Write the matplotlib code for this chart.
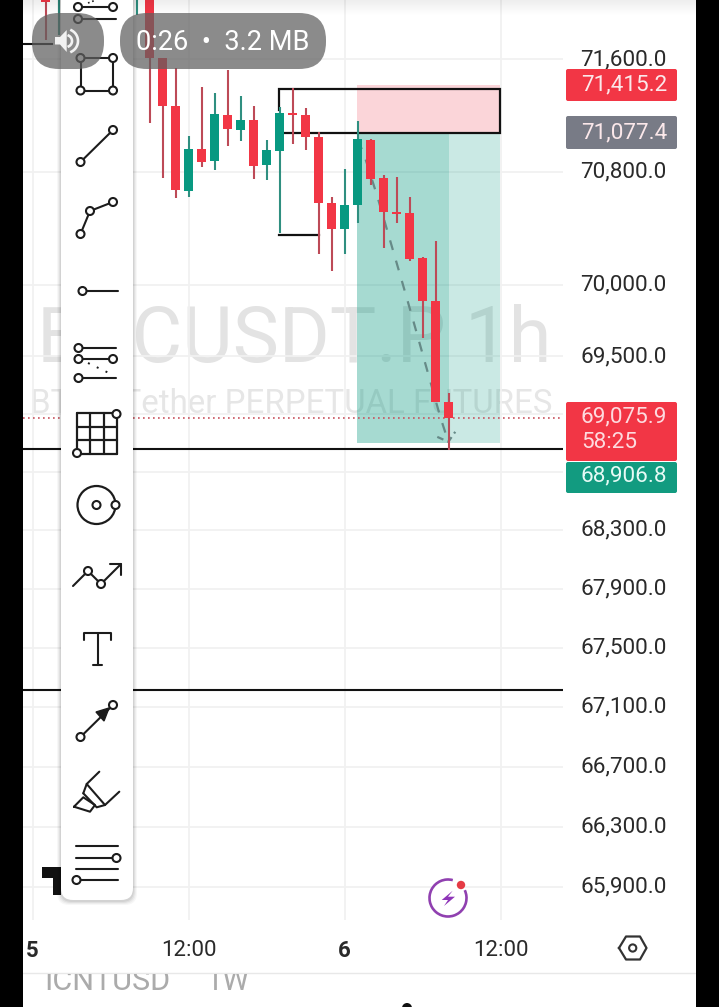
import numpy as np
import matplotlib
matplotlib.use("Agg")
import matplotlib.pyplot as plt
from matplotlib.patches import Rectangle, FancyBboxPatch, Circle, Polygon, RegularPolygon, Arc
from matplotlib.ticker import NullLocator, FixedLocator, FixedFormatter
from matplotlib.transforms import ScaledTranslation

plt.rcParams['font.family'] = ['Roboto', 'DejaVu Sans']

W, H = 719, 1007

# ---------- data ----------
HOURS = [-23, -22, -16, -15, -14, -13, -12, -11, -10, -9, -8, -7, -6, -5, -4, -3, -2, -1,
         0, 1, 2, 3, 4, 5, 6, 7, 8]
OPEN = [72200, 72050, 72150, 72300, 71610, 71266, 70662, 70960, 70875, 71202, 71095, 71166, 70846,
        70946, 71216, 71202, 71045, 70577, 70394, 70563, 71024, 70754, 70514, 70506, 70190, 69887, 69184]
HIGH = [72300, 72200, 72350, 72350, 71610, 71538, 71052, 71402, 71359, 71524, 71338, 71266, 71024,
        71258, 71395, 71252, 71081, 70619, 70818, 71159, 71031, 70775, 70761, 70619, 70197, 70309, 69246]
LOW = [71739, 71775, 71919, 71145, 70754, 70612, 70619, 70832, 70811, 70981, 71016, 70747, 70740,
       70365, 70995, 70953, 70217, 70097, 70217, 70436, 70704, 70259, 70436, 70168, 69628, 69184, 68852]
CLOSE = [72012, 72150, 72300, 71610, 71266, 70669, 70960, 70868, 71209, 71102, 71166, 70839, 70953,
         71216, 71205, 71045, 70577, 70394, 70563, 71031, 70747, 70514, 70499, 70182, 69887, 69184, 69075.9]

Y_TICKS = [71600, 70800, 70000, 69500, 69100, 68700, 68300, 67900, 67500, 67100, 66700, 66300, 65900]
Y_LABELS = ['71,600.0', '70,800.0', '70,000.0', '69,500.0', '', '', '68,300.0', '67,900.0',
            '67,500.0', '67,100.0', '66,700.0', '66,300.0', '65,900.0']
X_TICKS = [-24, -12, 0, 12]
X_LABELS = ['5', '12:00', '6', '12:00']

ENTRY, STOP, TARGET = 71077.4, 71415.2, 68900
POS_START, POS_MID, POS_END = 0.95, 8, 11.95
LEVELS = [68859, 67212]
PRICE_NOW = 69075.9

BOX_TOP, BOX_BOTTOM = 71388, 71074
BOX_LEFT = -5.05
LOW_BRACKET = 70351
LEFT_STUB = 71711

PATH_H = [1.0, 1.46, 2.53, 4.45, 5.2, 7.36, 7.98]
PATH_P = [71024, 70932, 70620, 70014, 69776, 69080, 68908]
HEAD_H = [7.13, 7.98, 8.51]
HEAD_P = [68942, 68908, 68977]

TAGS = [('71,415.2', 69, 101, '#f23645'), ('71,077.4', 116, 149, '#787b86')]

# ---------- main axes ----------
fig = plt.figure(figsize=(W / 100, H / 100), dpi=100, facecolor='white')
ax_l, ax_r, ax_top, ax_bot = 23, 563, 0, 920
ax = fig.add_axes([ax_l / W, 1 - ax_bot / H, (ax_r - ax_l) / W, (ax_bot - ax_top) / H])
ax.set_yscale('log')
PX_PER_H = 13.0
X0 = 344.6
ax.set_xlim((ax_l - X0) / PX_PER_H, (ax_r - X0) / PX_PER_H)
K = 9976
ax.set_ylim(71600 * np.exp(-(ax_bot - 59.5) / K), 71600 * np.exp(59.5 / K))
ax.yaxis.set_major_locator(FixedLocator(Y_TICKS))
ax.yaxis.set_major_formatter(FixedFormatter(Y_LABELS))
ax.yaxis.set_minor_locator(NullLocator())
ax.yaxis.tick_right()
ax.set_xticks(X_TICKS)
ax.set_xticklabels(X_LABELS)
ax.tick_params(axis='y', length=0, pad=12.3, labelsize=16.2, labelcolor='#2a2a2a')
ax.tick_params(axis='x', length=0, pad=14.5, labelsize=16, labelcolor='#2a2a2a')
shift = ScaledTranslation(0, 2.5 / 100, fig.dpi_scale_trans)
for lab in ax.get_yticklabels():
    lab.set_transform(lab.get_transform() + shift)
for lab, t in zip(ax.get_xticklabels(), X_LABELS):
    if ':' not in t:
        lab.set_fontweight('bold')
for s in ax.spines.values():
    s.set_visible(False)
ax.set_axisbelow(True)
ax.grid(True, color='#f1f1f1', lw=1.3)


def px(x, y):
    return x / W, 1 - y / H


# watermark
wx, wy = px(37, 362)
ax.text(wx, wy, 'BTCUSDT.P 1h', transform=fig.transFigure, fontsize=56, color='#e3e3e3',
        ha='left', va='baseline', zorder=0.5)
wx, wy = px(30, 413)
ax.text(wx, wy, 'BTC / Tether PERPETUAL FUTURES', transform=fig.transFigure, fontsize=23.8,
        color='#e6e6e6', ha='left', va='baseline', zorder=0.5)

# position zones
ax.fill_between([POS_START, POS_END], ENTRY, STOP, color='#fbd3d7', lw=0, zorder=1, alpha=0.95)
ax.fill_between([POS_START, POS_MID], TARGET, ENTRY, color='#089981', alpha=0.36, lw=0, zorder=1)
ax.fill_between([POS_MID, POS_END], TARGET, ENTRY, color='#089981', alpha=0.21, lw=0, zorder=1)

# horizontal levels
for lv in LEVELS:
    ax.axhline(lv, color='#111111', lw=1.5, zorder=2)
ax.axhline(PRICE_NOW, color='#c8525e', lw=1.2, ls=(0, (1, 2)), zorder=1.5)

# drawn rectangle and brackets
ax.plot([BOX_LEFT, BOX_LEFT, POS_END, POS_END, BOX_LEFT + 0.4],
        [71240, BOX_TOP, BOX_TOP, BOX_BOTTOM, BOX_BOTTOM], color='#111111', lw=1.6, zorder=2,
        solid_joinstyle='miter')
ax.plot([BOX_LEFT, -2], [LOW_BRACKET, LOW_BRACKET], color='#111111', lw=1.6, zorder=2)
ax.plot([ax.get_xlim()[0], -22.5], [LEFT_STUB, LEFT_STUB], color='#111111', lw=1.5, zorder=2)

# forecast path
ax.plot(PATH_H, PATH_P, color='#668a87', lw=1.6, ls=(0, (4.5, 5)), zorder=2.5)
ax.plot(HEAD_H, HEAD_P, color='#668a87', lw=1.6, ls=(0, (3, 2)), zorder=2.5)

# candles
for h, o, hi, lo, c in zip(HOURS, OPEN, HIGH, LOW, CLOSE):
    up = c >= o
    body = '#089981' if up else '#f23645'
    wick = '#2f8f80' if up else '#bd4a57'
    ax.plot([h, h], [lo, hi], color=wick, lw=1.5, zorder=3, solid_capstyle='butt')
    ax.bar(h, abs(c - o), bottom=min(o, c), width=0.7, color=body, lw=0, zorder=4)

# ---------- overlay in pixels ----------
ov = fig.add_axes([0, 0, 1, 1], facecolor='none', zorder=5)
ov.set_xlim(0, W)
ov.set_ylim(H, 0)
ov.axis('off')

# top shading
grad = np.zeros((16, 1, 4))
grad[..., 3] = np.linspace(0.07, 0, 16)[:, None]
ov.imshow(grad, extent=(23, 696, 16, 0), aspect='auto', zorder=0.2)
ov.set_xlim(0, W)
ov.set_ylim(H, 0)

INK = '#1c1c1c'

# logo
ov.add_patch(Polygon([(42, 867), (61, 867), (61, 895), (53, 895), (53, 878), (42, 878)],
                     color='#111111', lw=0, zorder=1))

# toolbar with shadow
for grow, a in [(4, 0.03), (3, 0.04), (2, 0.05), (1, 0.06)]:
    ov.add_patch(FancyBboxPatch((61 - grow, -40), 72 + 2 * grow, 940 + grow + 1,
                                boxstyle='round,pad=0,rounding_size=12',
                                fc='black', ec='none', alpha=a, zorder=1.5))
ov.add_patch(FancyBboxPatch((61, -40), 72, 940, boxstyle='round,pad=0,rounding_size=12',
                            fc='white', ec='none', zorder=2))


def line(xs, ys, lw=1.5, **kw):
    ov.plot(xs, ys, color=INK, lw=lw, zorder=3, solid_capstyle='round', **kw)


def node(x, y, r=4):
    ov.add_patch(Circle((x, y), r, fc='white', ec=INK, lw=1.5, zorder=4))


# partial top icon
line([78, 113], [7, 7]); line([78, 116], [19, 19]); node(78, 7); node(113, 7); node(78, 19)
ov.plot([88, 96], [3, 0], color=INK, lw=1.2, ls=':', zorder=3)
# rectangle
line([80.5, 113, 113, 80.5, 80.5], [58, 58, 90.5, 90.5, 58])
for p in [(80.5, 58), (113, 58), (80.5, 90.5), (113, 90.5)]:
    node(*p)
# segment
line([80.5, 113], [162, 130]); node(80.5, 162); node(113, 130)
# polyline
line([80.5, 90, 113], [234, 211, 202])
for p in [(80.5, 234), (90, 211), (113, 202)]:
    node(*p)
# ray
line([82.5, 118], [291, 291]); node(82.5, 291)
# fib / channel
line([78.5, 116], [348, 348]); line([78.5, 113], [359, 359]); line([78.5, 116], [378, 378])
ov.plot([88, 111], [363, 374], color=INK, lw=1.4, ls=(0, (1, 4)), zorder=3)
for p in [(78.5, 348), (78.5, 359), (113, 359), (78.5, 378)]:
    node(*p)
# table grid
for v in [76.5, 90, 103.5, 117]:
    line([v, v], [413, 454], lw=1.6)
for v in [413, 427, 440, 454]:
    line([76.5, 117], [v, v], lw=1.6)
node(116.5, 414); node(77, 453)
# circle
ov.add_patch(Circle((96.5, 505), 19, fc='none', ec=INK, lw=1.6, zorder=3))
node(96.5, 505); node(115.5, 505)
# path arrow
line([73, 88, 101, 121], [586, 571, 584, 564]); line([110, 121, 121], [564, 564, 575])
node(88, 571); node(101, 584)
# T
line([84, 84, 111, 111], [640, 633, 633, 640]); line([97.5, 97.5], [633, 665]); line([93, 102], [665, 665])
# arrow
line([80.5, 113], [737, 705]); node(80.5, 737); node(113, 705)
ov.add_patch(Polygon([(109, 708), (96, 712), (104, 721)], fc=INK, ec=INK, lw=1, zorder=3))
# highlighter
line([99.3, 86.7, 83.3], [771.7, 784, 793.3])
line([86.7, 105, 119.3], [784, 805, 791.7])
line([83.3, 96.7, 105], [793.3, 807.3, 805])
line([74, 83.3, 95, 90, 74], [806.7, 797.3, 805, 811.7, 806.7])
# lines
line([76, 118], [846, 846]); line([76, 116], [858, 858]); line([76, 118], [869, 869]); line([76, 118], [880, 880])
node(116.5, 858); node(76.5, 880)

# price tags
for txt, y0, y1, col in TAGS:
    ov.add_patch(FancyBboxPatch((566, y0), 111, y1 - y0, boxstyle='round,pad=0,rounding_size=2',
                                fc=col, ec='none', zorder=2))
    ov.text(624, (y0 + y1) / 2, txt, color='#fbe8ea', fontsize=16.2, ha='center', va='center', zorder=3)
ov.add_patch(FancyBboxPatch((566, 402), 111, 59, boxstyle='round,pad=0,rounding_size=2',
                            fc='#f23645', ec='none', zorder=2))
ov.text(624, 417, '69,075.9', color='#fddbdf', fontsize=16.2, ha='center', va='center', zorder=3)
ov.text(581, 443, '58:25', color='#fddbdf', fontsize=16.2, ha='left', va='center', zorder=3)
ov.add_patch(FancyBboxPatch((566, 462), 111, 31, boxstyle='round,pad=0,rounding_size=2',
                            fc='#129b80', ec='none', zorder=2))
ov.text(624, 476, '68,906.8', color='#e6faf5', fontsize=16.2, ha='center', va='center', zorder=3)

# lightning badge
ov.add_patch(Circle((448, 898), 20, fc='white', ec='none', zorder=1.8))
ov.add_patch(Arc((448, 898), 37, 37, theta1=-25, theta2=285, ec='#9040b0', lw=1.9, zorder=2))
ov.add_patch(Polygon([(452.7, 890.7), (441.7, 900), (448, 900), (444, 906), (455, 896.7), (448, 896.7)],
                     fc='#8e35b8', ec='none', zorder=3))
ov.add_patch(Circle((461, 885), 4.2, fc='#e53b45', ec='none', zorder=4))

# settings hexagon
ov.plot([619, 626, 640, 646.5, 640, 626, 619], [948, 936.5, 936.5, 948, 959.5, 959.5, 948],
        color='#333333', lw=1.6, zorder=2, solid_joinstyle='round')
ov.add_patch(Circle((632.7, 948), 3.6, fc='none', ec='#333333', lw=1.5, zorder=2))

# bottom strip
ov.plot([23, 696], [973, 973], color='#e8e8e8', lw=1, zorder=2)
clip = Rectangle((23, 974), 673, 33, transform=ov.transData)
for s, x in [('ICNTUSD', 44), ('1W', 205)]:
    t = ov.text(x, 990, s, color='#ababab', fontsize=22, ha='left', va='baseline', zorder=2)
    t.set_clip_path(clip)
    t.set_clip_on(True)
ov.add_patch(Circle((407, 1008), 5, fc='#111111', ec='none', zorder=2))

# black side bars
ov.add_patch(Rectangle((0, 0), 23, H, fc='black', ec='none', zorder=6))
ov.add_patch(Rectangle((696, 0), 23, H, fc='black', ec='none', zorder=6))

# player pills
for x0, wd in [(32, 72), (120, 206)]:
    ov.add_patch(FancyBboxPatch((x0, 13), wd, 56, boxstyle='round,pad=0,rounding_size=27',
                                fc='#5f5f5f', ec='none', alpha=0.72, zorder=8))
ov.text(223, 42.5, '0:26  \u2022  3.2 MB', color='white', fontsize=19.6, ha='center', va='center', zorder=9)
# speaker
ov.add_patch(Polygon([(55, 37), (60, 37), (66.7, 30), (66.7, 52), (60, 44.5), (55, 44.5)],
                     fc='#f2f2f2', ec='none', zorder=9))
th = np.linspace(-1.1, 1.1, 30)
for r in [6, 12]:
    ov.plot(66 + r * np.cos(th), 41 + r * np.sin(th), color='#f2f2f2', lw=1.9, zorder=9)

fig.savefig('out.png', dpi=100, facecolor='white')
